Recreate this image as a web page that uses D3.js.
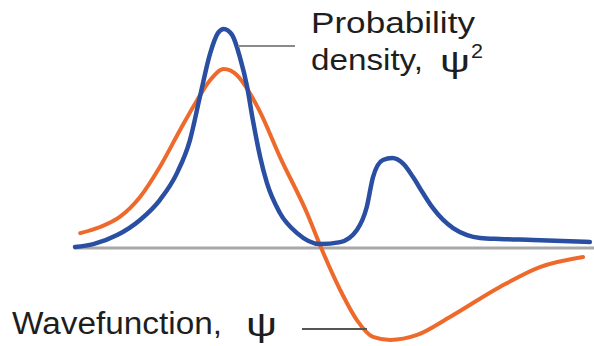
<!DOCTYPE html>
<html lang="en">
<meta charset="utf-8">
<script src="https://cdn.jsdelivr.net/npm/d3@7"></script>
<style>
  body { margin: 0; background: #fff; }
  .lbl { font-family: "Liberation Sans", Arial, sans-serif; fill: #1e1e1e; }
  .psi { font-family: "Liberation Sans", Arial, sans-serif; fill: #1e1e1e; }
</style>
<body>
<script>
// radial distance (arbitrary units) and curve values
var densityX = [0.02, 0.37, 0.83, 1.27, 1.65, 1.98, 2.23, 2.42, 2.62, 2.77, 2.88, 3.04, 3.19, 3.33, 3.44, 3.58, 3.71, 3.96, 4.29, 4.73, 5.12, 5.44, 5.63, 5.75, 5.94, 6.12, 6.33, 6.52, 6.71, 6.90, 7.10, 7.29, 7.56, 7.81, 8.19, 8.83, 9.92];
var densityY = [0.005, 0.018, 0.059, 0.128, 0.219, 0.342, 0.493, 0.689, 0.890, 0.982, 1.000, 0.973, 0.872, 0.735, 0.584, 0.416, 0.297, 0.160, 0.068, 0.018, 0.027, 0.082, 0.187, 0.324, 0.402, 0.411, 0.385, 0.324, 0.251, 0.183, 0.128, 0.091, 0.059, 0.046, 0.041, 0.037, 0.027];

var waveX = [0.12, 0.50, 0.88, 1.27, 1.65, 2.04, 2.37, 2.62, 2.88, 3.13, 3.38, 3.58, 3.96, 4.48, 4.77, 5.12, 5.44, 5.75, 6.08, 6.60, 7.23, 8.19, 8.96, 9.79];
var waveY = [0.068, 0.096, 0.142, 0.233, 0.370, 0.539, 0.676, 0.767, 0.817, 0.790, 0.708, 0.620, 0.416, 0.160, -0.009, -0.192, -0.329, -0.406, -0.420, -0.397, -0.315, -0.178, -0.087, -0.041];

var width = 594, height = 346;

var svg = d3.select("body").append("svg")
    .attr("width", width)
    .attr("height", height);

var x = d3.scaleLinear().domain([0, 10]).range([74, 594]);
var y = d3.scaleLinear().domain([0, 1]).range([248, 29]);

// baseline (zero line)
svg.append("line")
    .attr("x1", x(0)).attr("x2", x(10))
    .attr("y1", y(0)).attr("y2", y(0))
    .style("stroke", "#a8a8a8")
    .style("stroke-width", 3);

var line = d3.line()
    .x(function(d){ return x(d[0]); })
    .y(function(d){ return y(d[1]); })
    .curve(d3.curveMonotoneX);

var wave = d3.zip(waveX, waveY);
var density = d3.zip(densityX, densityY);

svg.append("path")
    .attr("d", line(wave))
    .style("fill", "none")
    .style("stroke", "#ee6a2c")
    .style("stroke-width", 4)
    .style("stroke-linecap", "round");

svg.append("path")
    .attr("d", line(density))
    .style("fill", "none")
    .style("stroke", "#2a4ea2")
    .style("stroke-width", 4.5)
    .style("stroke-linecap", "round");

// leader lines
svg.append("line")
    .attr("x1", 238).attr("x2", 295)
    .attr("y1", 46).attr("y2", 46)
    .style("stroke", "#8a8a8a").style("stroke-width", 2);

svg.append("line")
    .attr("x1", 302).attr("x2", 367)
    .attr("y1", 329).attr("y2", 329)
    .style("stroke", "#555").style("stroke-width", 2);

// labels
function label(cls, tx, ty, size, len, str) {
    return svg.append("text")
        .attr("class", cls)
        .attr("x", tx).attr("y", ty)
        .attr("textLength", len)
        .attr("lengthAdjust", "spacingAndGlyphs")
        .style("font-size", size + "px")
        .text(str);
}

label("lbl", 311, 33, 29, 164, "Probability");
label("lbl", 311, 70, 29, 112, "density,");
label("psi", 440, 72, 31, 30, "\u03C8");
label("lbl", 471, 58, 20, 12, "2");

label("lbl", 12, 334, 31, 210, "Wavefunction,");
label("psi", 246, 336, 33, 31, "\u03C8");
</script>
</body>
</html>
